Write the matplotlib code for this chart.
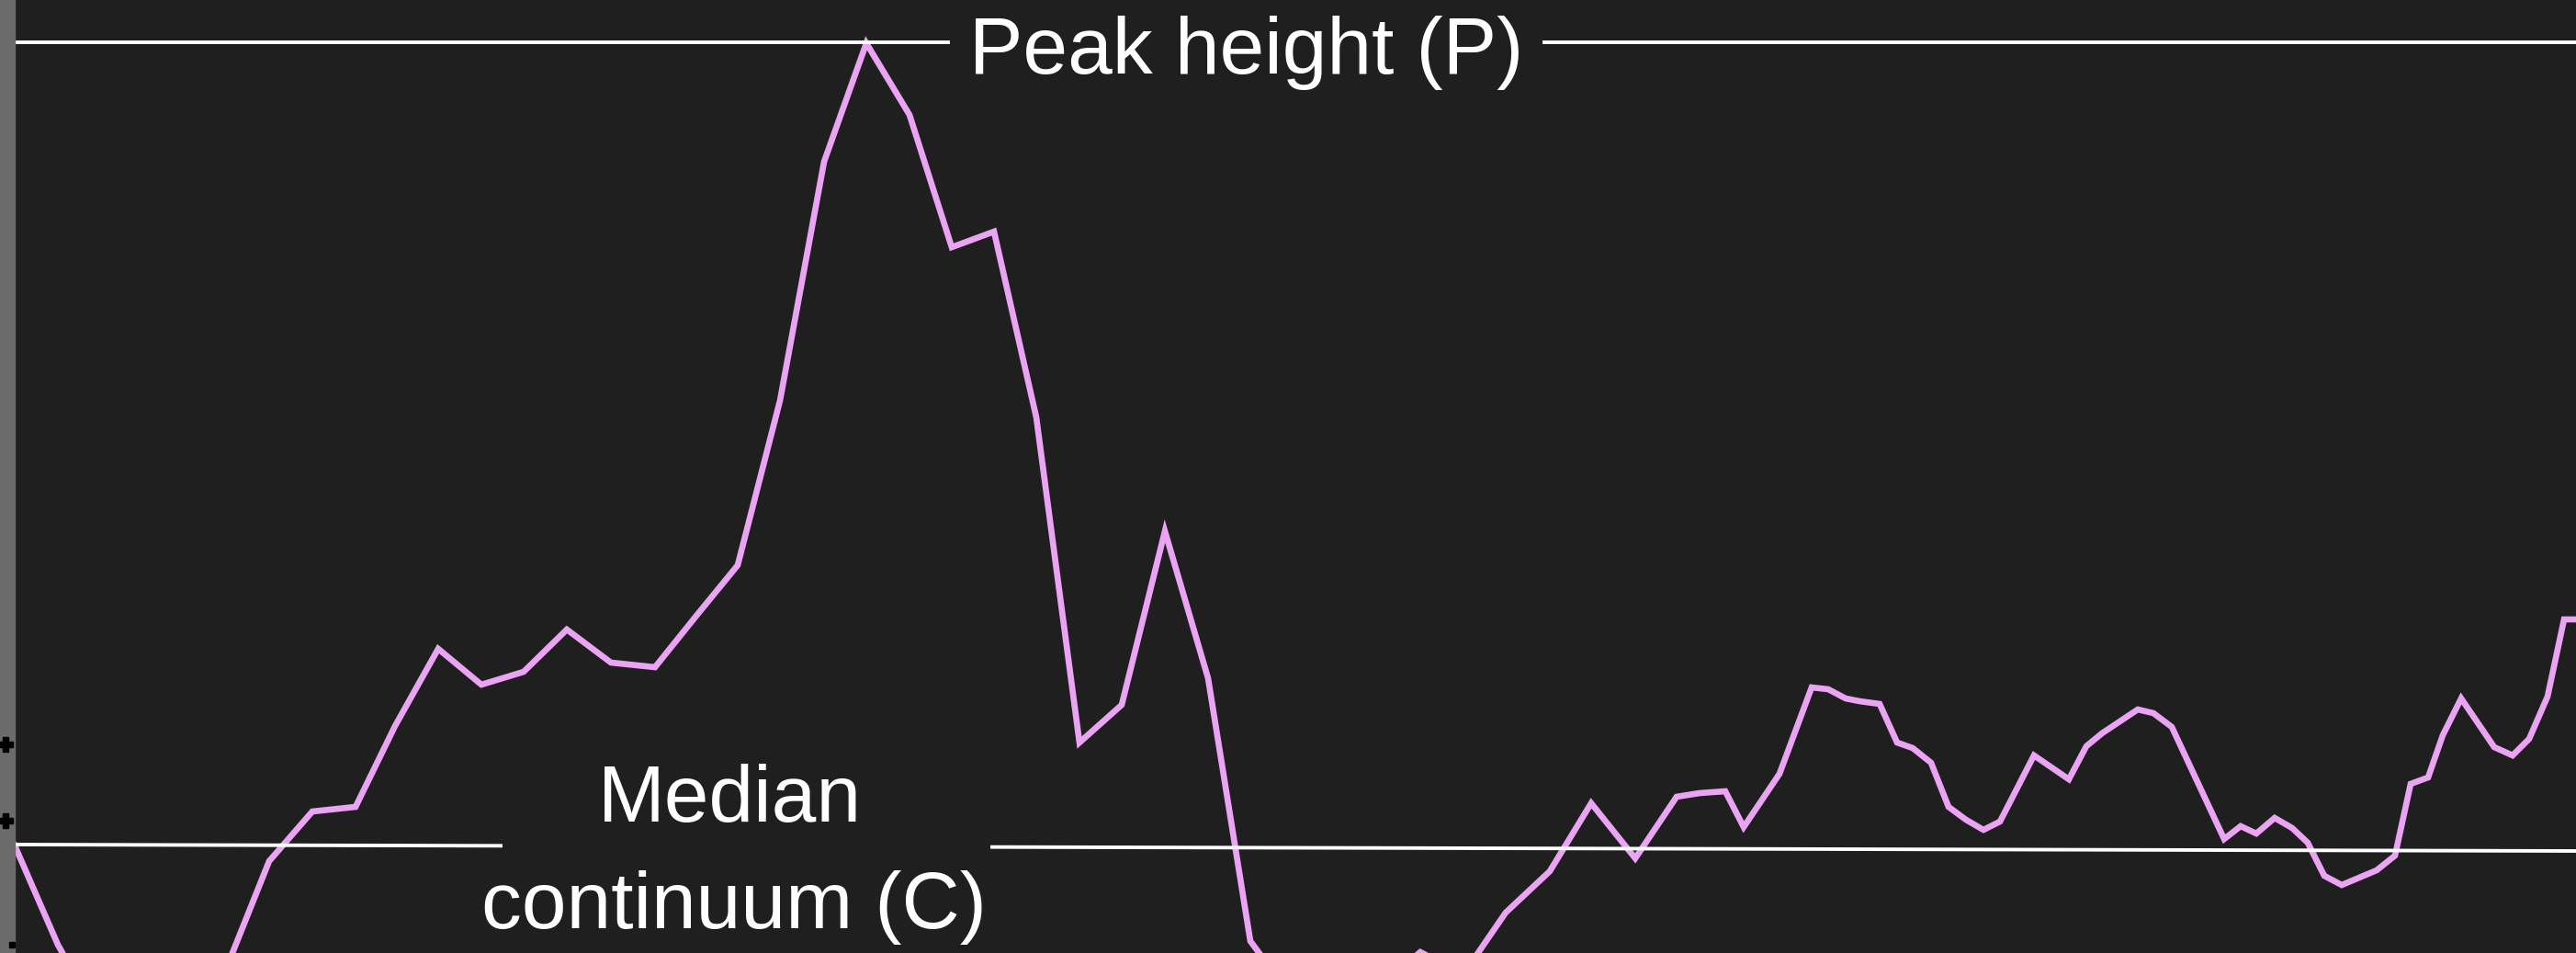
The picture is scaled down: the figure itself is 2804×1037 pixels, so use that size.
import matplotlib
matplotlib.use("Agg")
import matplotlib.pyplot as plt
import numpy as np

# ---- data ----
channel = [16, 63, 109, 156, 202, 249, 293, 340, 387, 430, 477, 524, 570, 617, 665,
           713, 758, 803, 849, 897, 943, 990, 1036, 1082, 1128, 1175, 1221, 1268,
           1315, 1361, 1406, 1453, 1500, 1546, 1593, 1639, 1687, 1732, 1780, 1825,
           1850, 1878, 1898, 1937, 1972, 1990, 2009, 2024, 2046, 2065, 2082, 2102,
           2121, 2140, 2159, 2177, 2214, 2252, 2271, 2288, 2327, 2344, 2364, 2421,
           2439, 2456, 2476, 2495, 2512, 2530, 2549, 2587, 2607, 2624, 2643, 2659,
           2679, 2715, 2735, 2753, 2773, 2791, 2804]
flux = [117, 9, -73, -103, -83, -10, 100, 154, 159, 247, 331, 292, 306, 352, 316,
        311, 367, 422, 601, 861, 990, 912, 768, 785, 583, 229, 270, 459,
        299, 13, -48, -63, -38, 1, -23, 44, 89, 163, 103, 170,
        174, 176, 137, 195, 289, 287, 277, 274, 271, 229, 223, 207,
        159, 145, 134, 143, 215, 189, 225, 239, 265, 261, 246, 124,
        138, 130, 147, 136, 120, 84, 74, 90, 106, 184, 191, 237,
        277, 224, 215, 233, 279, 363, 363]

peak_level = 991
continuum_start, continuum_end = 118, 111

# ---- figure ----
W, H = 2804, 1037
fig = plt.figure(figsize=(W / 100, H / 100), dpi=100)
fig.patch.set_facecolor("#1f1f1f")
ax = fig.add_axes([0, 0, 1, 1])
ax.set_facecolor("#1f1f1f")
ax.set_xlim(0, W)
ax.set_ylim(0, H)
ax.axis("off")

# grey strip at left edge
ax.axvspan(0, 16, color="#6b6b6b", zorder=5)
ax.plot([6], [227], marker="P", color="black", markersize=11, zorder=6)
ax.plot([6], [144], marker="P", color="black", markersize=11, zorder=6)
ax.plot([13], [9], marker="s", color="black", markersize=5, zorder=6)

# spectrum
ax.plot(channel, flux, color="#eba3f3", lw=4.8, solid_joinstyle="miter", zorder=3)

# peak height line
ax.plot([16, 1032], [peak_level, peak_level], color="white", lw=2.8, zorder=4)
ax.plot([1681, W], [peak_level, peak_level], color="white", lw=2.8, zorder=4)


def cont(x):
    return continuum_start + (continuum_end - continuum_start) * (x - 16) / (W - 16)


ax.plot([16, 545], [cont(16), cont(545)], color="white", lw=2.8, zorder=4)
ax.plot([1080, W], [cont(1080), cont(W)], color="white", lw=2.8, zorder=4)

font = dict(family="Liberation Sans", color="white", fontsize=63, ha="center", va="baseline")
ax.text(1357, 957, "Peak height (P)", **font)
ax.text(794, 143, "Median", **font)
ax.text(799, 27, "continuum (C)", **font)

fig.savefig("out.png", dpi=100, facecolor=fig.get_facecolor())
